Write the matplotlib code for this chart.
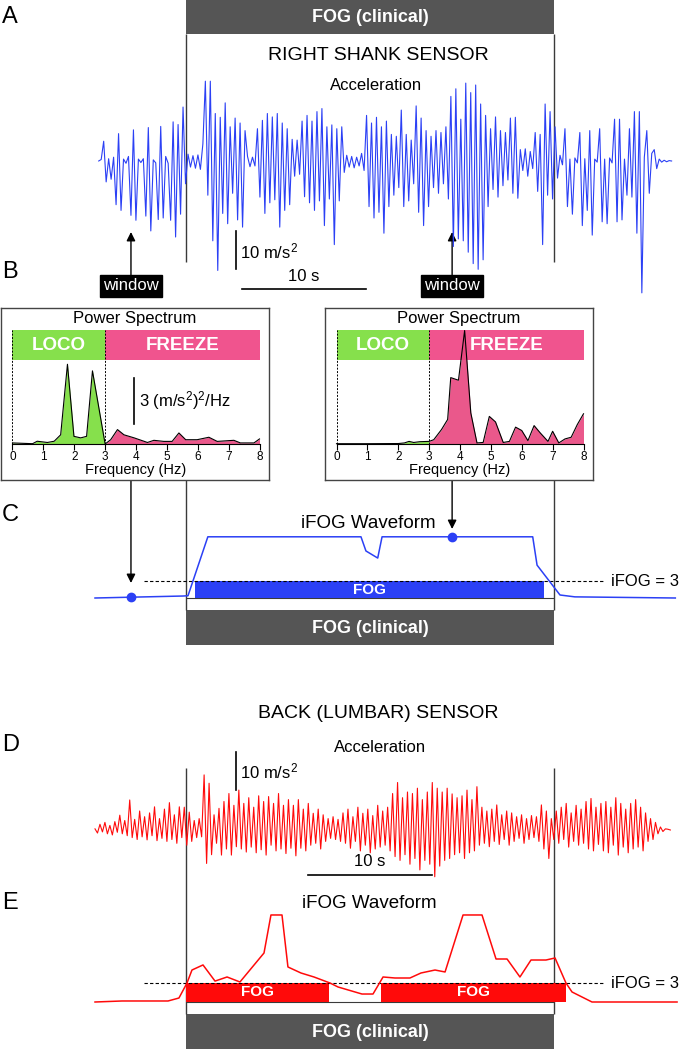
import numpy as np
import matplotlib.pyplot as plt
from matplotlib.patches import Rectangle

plt.rcParams['font.family'] = ['Liberation Sans', 'DejaVu Sans']
plt.rcParams['mathtext.default'] = 'regular'

# ===== DATA =====
dt = 0.2                       # sample step of the acceleration traces (s)
fog_clinical = (7.34, 37.02)   # clinically rated freeze (s)
window_t = [2.9, 28.8]         # analysis windows shown in B (s)
ifog_thr = 3

# A : right shank acceleration (m/s2), starts at t = 0.3 s
shank_t0 = 0.3
acc_shank = [
    0.0, 0.4, 5.2, -5.5, 0.6, -4.8, 1.0, -11.5, 7.2, -13.0,
    0.5, -0.6, 1.2, -14.3, 8.2, -15.6, 0.5, -0.4, 0.6, -14.5,
    8.8, -18.4, 0.3, -0.5, -15.4, 9.1, -15.0, 1.2, -0.6, -15.6,
    10.3, -20.0, 9.6, -14.0, 14.2, -6.0, 1.8, -1.6, 1.4, -1.9,
    1.6, -2.2, 4.5, 21.0, -9.0, 21.0, -21.0, 12.5, -28.8, 11.5,
    -13.8, 15.3, -16.5, 9.0, -8.5, 11.3, -15.5, 10.0, -17.4, 8.0,
    1.2, -1.5, 1.0, -1.3, 8.5, -9.5, 10.7, -13.8, 12.5, -11.0,
    11.6, -10.2, 12.5, -17.4, 10.0, -13.0, 8.5, -11.5, 5.7, -4.0,
    5.5, -3.5, 10.5, -9.4, 12.0, -11.0, 10.5, -13.0, 13.0, -10.5,
    13.8, -17.0, 9.0, -10.0, 9.5, -22.0, 8.5, -10.5, 9.0, -3.0,
    1.5, -1.6, 1.2, -1.8, 1.0, -1.3, 2.0, -2.5, 12.0, -12.0,
    10.0, -15.0, 11.5, -13.5, 9.0, -19.0, 10.5, -12.0, 7.0, -9.0,
    6.5, -7.0, 13.4, -12.0, 7.0, -10.5, 5.5, -6.0, 14.5, -13.5,
    11.3, -17.0, 8.0, -12.0, 6.5, -7.0, 8.0, -8.5, 7.5, -6.0,
    9.0, -10.0, 17.0, -22.5, 19.0, -20.5, 11.0, -21.0, 20.5, -24.0,
    18.0, -27.0, 20.0, -28.5, 15.0, -26.0, 12.0, -12.0, 8.5, -7.5,
    11.6, -9.5, 8.0, -6.5, 7.5, -5.0, 11.3, -8.5, 11.5, -9.8,
    3.0, -2.5, 3.2, -4.0, 2.5, -2.0, 7.5, -8.0, 7.0, -22.0,
    15.0, -9.0, 13.0, -10.0, 9.0, -4.5, 1.5, -1.0, 8.5, -12.0,
    0.5, -14.0, 0.8, -0.5, 7.5, -17.0, 0.6, -13.0, 8.0, -19.5,
    0.5, -0.3, 8.5, -16.0, 0.5, -16.5, 0.8, -0.5, 11.0, -16.0,
    11.0, -15.5, 0.5, -9.0, 8.5, -9.5, 13.0, -19.0, 13.0, -34.7,
    1.0, 8.0, -8.5, 2.0, 3.0, -2.0, 0.5, -0.3, 0.2, -0.2, 0.1, 0.0,
]

# D : back (lumbar) acceleration (m/s2), starts at t = 0 s
back_t0 = 0.0
acc_back = [
    0.3, -0.8, 1.5, -0.5, 2.0, -1.0, 1.2, -1.3, 2.2, -0.6,
    3.9, -1.0, 2.5, -1.5, 7.9, -2.0, 2.8, -2.5, 5.0, -1.8,
    3.5, -2.6, 4.5, -1.5, 6.1, -2.8, 3.0, -2.2, 5.5, -3.0,
    7.2, -2.5, 4.0, -3.5, 6.1, -2.0, 6.0, -4.0, 4.7, -3.0,
    2.5, -2.0, 3.0, -1.8, 14.5, -8.8, 12.3, -6.5, 4.0, -3.5,
    5.7, -6.6, 7.5, -5.0, 9.6, -6.6, 6.5, -4.4, 10.5, -5.0,
    7.0, -5.8, 8.5, -4.5, 6.0, -6.0, 9.0, -5.2, 7.5, -6.6,
    8.8, -4.0, 7.0, -5.5, 9.6, -5.0, 6.5, -6.2, 8.0, -4.8,
    6.5, -6.8, 8.0, -4.8, 5.5, -5.5, 7.0, -4.0, 4.4, -3.5,
    5.5, -5.0, 4.0, -3.0, 3.0, -2.2, 3.5, -2.5, 2.8, -3.0,
    4.5, -3.5, 5.5, -4.8, 3.5, -3.0, 6.0, -5.5, 4.4, -4.0,
    5.5, -6.0, 3.8, -5.0, 6.5, -4.5, 5.0, -4.0, 6.0, -5.5,
    9.6, -7.0, 12.5, -8.0, 8.5, -6.5, 10.0, -9.0, 9.6, -7.5,
    11.0, -10.5, 8.0, -8.0, 10.0, -9.0, 12.5, -12.3, 11.0, -9.5,
    10.0, -8.0, 11.0, -7.5, 9.5, -6.5, 8.5, -6.0, 9.0, -7.5,
    10.5, -6.0, 8.0, -5.5, 11.4, -4.0, 6.0, -3.5, 5.0, -4.4,
    5.5, -3.0, 6.6, -3.8, 4.0, -2.5, 5.0, -4.0, 4.5, -3.0,
    3.5, -2.2, 4.0, -3.5, 3.0, -2.5, 3.8, -2.0, 3.5, -3.0,
    6.6, -5.0, 5.0, -7.5, 3.0, -2.5, 5.0, -3.5, 6.0, -2.5,
    7.0, -4.5, 4.5, -3.0, 6.5, -4.0, 5.5, -3.5, 7.5, -5.0,
    8.3, -5.5, 6.0, -3.8, 7.0, -5.5, 7.5, -6.0, 6.0, -4.0,
    8.5, -6.6, 7.0, -4.5, 5.5, -6.0, 7.0, -5.0, 8.0, -4.5,
    6.0, -5.5, 4.5, -3.0, 3.0, -2.5, 2.0, -1.0, 0.8, -0.4,
    0.3, 0.2, 0.0,
]

# C : iFOG waveform from shank sensor
ifog_c_t = [0.0, 7.1, 7.5, 9.1, 21.45, 21.85, 22.8, 23.15, 35.3, 35.65, 37.5, 38.7, 46.8]
ifog_c_v = [0.0, 0.35, 0.4, 10.8, 10.8, 8.3, 7.05, 10.8, 10.8, 5.8, 0.53, 0.2, 0.0]
fog_c = [(8.06, 36.2)]

# E : iFOG waveform from back sensor
ifog_e_t = [0.0, 2.18, 5.89, 6.77, 7.42, 7.82, 8.71, 9.68, 10.65, 11.69, 13.63, 14.19,
            15.08, 15.56, 16.61, 17.66, 18.95, 19.6, 21.53, 22.42, 23.23, 24.19, 25.4,
            26.29, 27.42, 28.23, 29.68, 31.21, 32.34, 33.23, 34.27, 35.16, 36.37, 37.1,
            37.98, 38.47, 40.08, 46.94]
ifog_e_v = [0.0, 0.16, 0.16, 0.63, 3.0, 5.05, 5.85, 3.3, 3.95, 3.16, 7.74, 13.74,
            13.74, 5.53, 4.58, 3.95, 3.0, 2.37, 1.26, 1.26, 3.95, 3.79, 3.79,
            4.58, 5.05, 4.74, 13.74, 13.74, 6.79, 6.79, 3.95, 6.63, 6.63, 6.95,
            3.0, 1.58, 0.0, 0.0]
fog_e = [(7.34, 18.87), (23.1, 37.98)]

# B : power spectra ((m/s2)^2/Hz)
freq_left = [0, 0.65, 0.8, 1.13, 1.35, 1.56, 1.78, 1.99, 2.21, 2.4, 2.59, 3.0,
             3.18, 3.4, 3.61, 3.94, 4.37, 4.58, 4.9, 5.17, 5.39, 5.61, 5.98, 6.36,
             6.63, 7.17, 7.38, 7.82, 8.0]
psd_left = [0.07, 0.02, 0.18, 0.1, 0.18, 0.6, 5.2, 0.5, 0.4, 0.5, 4.77, 0.0,
            0.28, 0.94, 0.6, 0.4, 0.1, 0.24, 0.17, 0.17, 0.72, 0.28, 0.28, 0.44,
            0.17, 0.24, 0.07, 0.07, 0.33]
freq_right = [0, 1.0, 2.0, 2.2, 2.35, 2.5, 2.7, 3.0, 3.15, 3.4, 3.6, 3.7, 3.95,
              4.15, 4.35, 4.55, 4.75, 4.95, 5.15, 5.4, 5.6, 5.8, 6.0, 6.2, 6.4,
              6.6, 6.85, 7.0, 7.2, 7.4, 7.6, 7.8, 8.0]
psd_right = [0.02, 0.02, 0.03, 0.07, 0.17, 0.1, 0.15, 0.17, 0.28, 0.94, 1.6, 4.33, 4.16,
             7.4, 2.03, 0.07, 0.1, 1.8, 1.44, 0.1, 0.17, 1.1, 0.88, 0.22, 1.2,
             0.72, 0.17, 0.83, 0.07, 0.33, 0.44, 1.27, 1.97]

# ===== LAYOUT / STYLE =====
W, H = 685, 1049
X0, PX_S = 95, 12.4            # pixel column of t = 0, pixels per second
T_MIN, T_MAX = -X0 / PX_S, (W - X0) / PX_S
GRAY = '#555555'
LINE = '#3a3a3a'
BLUE = '#2b40f5'
RED = '#ff0a0a'
GREEN = '#86e04c'
PINK = '#f0548e'


def t_of(x):
    return (x - X0) / PX_S


def strip(top, bottom, base, scale):
    ax = fig.add_axes([0, 1 - bottom / H, 1, (bottom - top) / H])
    ax.set_xlim(T_MIN, T_MAX)
    ax.set_ylim((base - bottom) / scale, (base - top) / scale)
    ax.axis('off')
    return ax


fig = plt.figure(figsize=(W / 100, H / 100), dpi=100)

bg = fig.add_axes([0, 0, 1, 1])
bg.set_xlim(T_MIN, T_MAX)
bg.set_ylim(H, 0)
bg.axis('off')

# clinical FOG bars and boundary lines
for y0, y1 in [(0, 34), (610, 645), (1014, 1049)]:
    bg.add_patch(Rectangle((fog_clinical[0], y0), fog_clinical[1] - fog_clinical[0], y1 - y0,
                           color=GRAY, lw=0))
    bg.text(np.mean(fog_clinical), (y0 + y1) / 2 + 1, 'FOG (clinical)', color='white',
            fontsize=13, fontweight='bold', ha='center', va='center')
for y0, y1 in [(34, 262), (480, 610), (768, 1014)]:
    bg.vlines(fog_clinical, y0, y1, color=LINE, lw=1)

# panel letters and titles
for letter, y in [('A', 17), ('B', 272), ('C', 515), ('D', 745), ('E', 903)]:
    bg.text(t_of(2), y, letter, fontsize=17, ha='left', va='center')
bg.text(t_of(378), 56, 'RIGHT SHANK SENSOR', fontsize=14, ha='center', va='center')
bg.text(t_of(376), 86, 'Acceleration', fontsize=12, ha='center', va='center')
bg.text(t_of(378), 713, 'BACK (LUMBAR) SENSOR', fontsize=14, ha='center', va='center')
bg.text(t_of(380), 748, 'Acceleration', fontsize=12, ha='center', va='center')
bg.text(t_of(368), 523, 'iFOG Waveform', fontsize=13.5, ha='center', va='center')
bg.text(t_of(369), 903, 'iFOG Waveform', fontsize=13.5, ha='center', va='center')

# window markers and arrows
arrow = dict(arrowstyle='-|>', color='black', lw=1, mutation_scale=13, shrinkA=0, shrinkB=0)
for tw in window_t:
    bg.text(tw, 286, 'window', color='white', fontsize=12, ha='center', va='center',
            bbox=dict(boxstyle='square,pad=0.2', fc='black', ec='black'))
    bg.annotate('', xy=(tw, 232), xytext=(tw, 275), arrowprops=arrow)
bg.annotate('', xy=(window_t[0], 583), xytext=(window_t[0], 480), arrowprops=arrow)
bg.annotate('', xy=(window_t[1], 529), xytext=(window_t[1], 480), arrowprops=arrow)

# ===== A : shank acceleration =====
ax_a = strip(40, 300, 161, 3.8)
t_a = shank_t0 + dt * np.arange(len(acc_shank))
ax_a.plot(t_a, acc_shank, color=BLUE, lw=0.8)
ax_a.plot([t_of(236)] * 2, [-28.4, -18.4], color='black', lw=1.2)
ax_a.text(t_of(240), -23.7, '10 m/s$^2$', fontsize=12, va='center')
ax_a.plot([t_of(242), t_of(242) + 10], [-33.7, -33.7], color='black', lw=1.2)
ax_a.text(t_of(242) + 5, -30.3, '10 s', fontsize=12, ha='center', va='center')

# ===== D : back acceleration =====
ax_d = strip(740, 890, 830, 3.8)
t_d = back_t0 + dt * np.arange(len(acc_back))
ax_d.plot(t_d, acc_back, color=RED, lw=0.8)
ax_d.plot([t_of(236)] * 2, [10.5, 20.5], color='black', lw=1.2)
ax_d.text(t_of(240), 15.5, '10 m/s$^2$', fontsize=12, va='center')
ax_d.plot([t_of(308), t_of(308) + 10], [-11.8, -11.8], color='black', lw=1.2)
ax_d.text(t_of(308) + 5, -8.4, '10 s', fontsize=12, ha='center', va='center')


# ===== C / E : iFOG waveforms =====
def ifog_panel(ax, t, v, fogs, color):
    ax.hlines(0, *fog_clinical, color=LINE, lw=0.8, zorder=1)
    for a, b in fogs:
        ax.broken_barh([(a, b - a)], (0, ifog_thr), color=color, lw=0, zorder=2)
        ax.text((a + b) / 2, ifog_thr / 2, 'FOG', color='white', fontsize=11,
                fontweight='bold', ha='center', va='center', zorder=4)
    ax.hlines(ifog_thr, t_of(144), t_of(605), color='black', lw=0.8,
              linestyles=(0, (3, 2)), zorder=3)
    ax.text(t_of(611), ifog_thr, 'iFOG = 3', fontsize=12, va='center')
    ax.plot(t, v, color=color, lw=1.1, zorder=3)


ax_c = strip(500, 660, 598, 17 / 3)
ifog_panel(ax_c, ifog_c_t, ifog_c_v, fog_c, BLUE)
ax_c.plot(window_t, np.interp(window_t, ifog_c_t, ifog_c_v), 'o', color=BLUE, ms=6, zorder=5)

ax_e = strip(890, 1049, 1002, 19 / 3)
ifog_panel(ax_e, ifog_e_t, ifog_e_v, fog_e, RED)

# ===== B : power spectra =====
PSD_PX = 46 / 3                 # pixels per (m/s2)^2/Hz
band = ((444 - 360) / PSD_PX, (444 - 330) / PSD_PX)


def spectrum_box(x0, freq, psd, scale_bar):
    frame = fig.add_axes([x0 / W, 1 - 480 / H, 268 / W, 172 / H])
    frame.set_xticks([])
    frame.set_yticks([])
    for s in frame.spines.values():
        s.set_color('#444444')
        s.set_linewidth(1)
    frame.text(0.5, 1 - 11 / 172, 'Power Spectrum', transform=frame.transAxes,
               ha='center', va='center', fontsize=12)

    ax = fig.add_axes([(x0 + 11.5) / W, 1 - 444 / H, 247 / W, 114 / H])
    ax.patch.set_alpha(0)
    ax.set_xlim(0, 8)
    ax.set_ylim(0, band[1])
    ax.fill_between([0, 3], band[0], band[1], color=GREEN, lw=0, zorder=1)
    ax.fill_between([3, 8], band[0], band[1], color=PINK, lw=0, zorder=1)
    ax.text(1.5, np.mean(band), 'LOCO', color='white', fontsize=13.5, fontweight='bold',
            ha='center', va='center', zorder=6)
    ax.text(5.5, np.mean(band), 'FREEZE', color='white', fontsize=13.5, fontweight='bold',
            ha='center', va='center', zorder=6)
    ax.vlines([0, 3, 8], 0, band[1], color='black', lw=0.7, linestyles=(0, (2, 1.5)), zorder=4)

    f = np.array(freq)
    p = np.array(psd)
    lo, hi = f <= 3, f >= 3
    ax.fill_between(f[lo], p[lo], color=GREEN, lw=0, zorder=2)
    ax.fill_between(f[hi], p[hi], color='#e8467f', alpha=0.9, lw=0, zorder=2)
    ax.plot(f, p, color='black', lw=0.8, zorder=3, clip_on=False)

    if scale_bar:
        ax.plot([3.92, 3.92], [1.3, 4.3], color='black', lw=1.2)
        ax.text(4.1, 2.85, '3 (m/s$^2$)$^2$/Hz', fontsize=12, va='center')

    ax.set_xticks(range(9))
    ax.set_yticks([])
    ax.tick_params(axis='x', length=4, width=0.8, labelsize=8.5, pad=1)
    for s in ['top', 'left', 'right']:
        ax.spines[s].set_visible(False)
    ax.spines['bottom'].set_linewidth(0.8)
    ax.set_xlabel('Frequency (Hz)', fontsize=10.5, labelpad=0)


spectrum_box(1, freq_left, psd_left, True)
spectrum_box(325, freq_right, psd_right, False)

plt.savefig('out.png', dpi=100)
